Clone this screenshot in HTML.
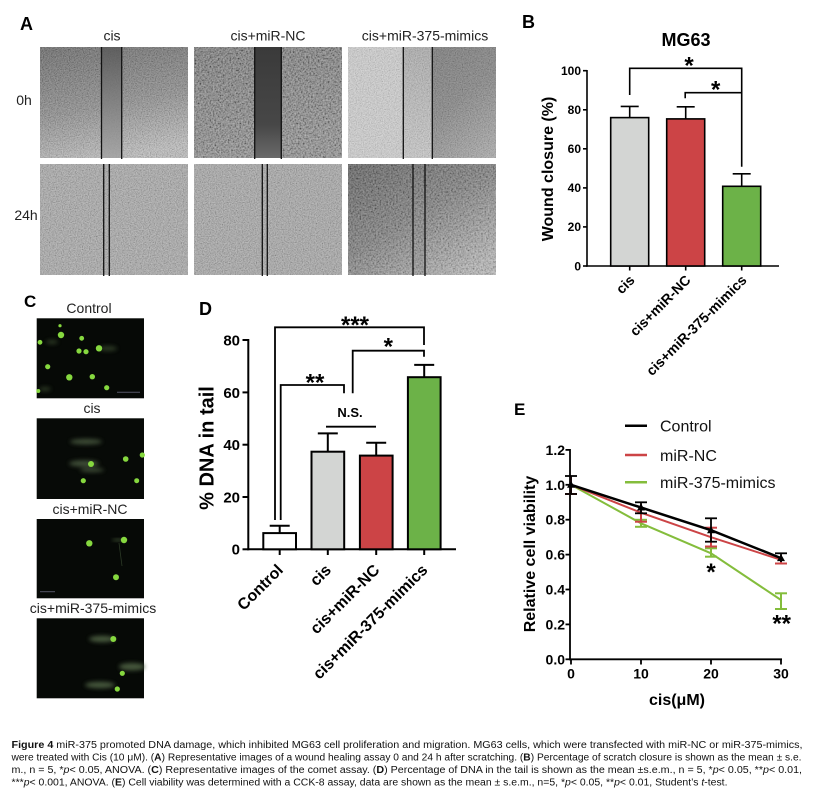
<!DOCTYPE html>
<html><head><meta charset="utf-8">
<style>
html,body{margin:0;padding:0;background:#fff;}
svg{display:block;}
text{font-family:"Liberation Sans",Arial,sans-serif;}
.b{font-weight:bold;}
</style></head>
<body>
<svg width="815" height="800" viewBox="0 0 815 800" xmlns="http://www.w3.org/2000/svg">
<defs>
  <filter id="nz" x="0" y="0" width="1" height="1" filterUnits="objectBoundingBox">
    <feTurbulence type="fractalNoise" baseFrequency="0.85" numOctaves="2" seed="4"/>
    <feColorMatrix type="matrix" values="1.4 0 0 0 -0.2  1.4 0 0 0 -0.2  1.4 0 0 0 -0.2  0 0 0 0 0.35"/>
  </filter>
  <filter id="nz2" x="0" y="0" width="1" height="1" filterUnits="objectBoundingBox">
    <feTurbulence type="fractalNoise" baseFrequency="0.6" numOctaves="2" seed="9"/>
    <feColorMatrix type="matrix" values="1.6 0 0 0 -0.3  1.6 0 0 0 -0.3  1.6 0 0 0 -0.3  0 0 0 0 0.45"/>
  </filter>
  <filter id="blur1"><feGaussianBlur stdDeviation="2.2"/></filter>
  <linearGradient id="g11" x1="0.2" y1="0" x2="0.45" y2="1">
    <stop offset="0" stop-color="#585858"/><stop offset="0.55" stop-color="#808080"/><stop offset="1" stop-color="#b8b8b8"/>
  </linearGradient>
  <linearGradient id="g11gap" x1="0" y1="0" x2="0" y2="1">
    <stop offset="0" stop-color="#585858"/><stop offset="1" stop-color="#a4a4a4"/>
  </linearGradient>
  <linearGradient id="g12" x1="0" y1="0" x2="0.3" y2="1">
    <stop offset="0" stop-color="#5e5e5e"/><stop offset="1" stop-color="#7a7a7a"/>
  </linearGradient>
  <linearGradient id="g12gap" x1="0" y1="0" x2="0" y2="1">
    <stop offset="0" stop-color="#3a3a3a"/><stop offset="0.7" stop-color="#474747"/><stop offset="1" stop-color="#6a6a6a"/>
  </linearGradient>
  <linearGradient id="g13r" x1="0" y1="0" x2="1" y2="1">
    <stop offset="0" stop-color="#666"/><stop offset="0.6" stop-color="#7c7c7c"/><stop offset="1" stop-color="#a8a8a8"/>
  </linearGradient>
  <linearGradient id="g13gap" x1="0" y1="0" x2="0" y2="1">
    <stop offset="0" stop-color="#a8a8a8"/><stop offset="1" stop-color="#c6c6c6"/>
  </linearGradient>
  <linearGradient id="g23" x1="0" y1="0" x2="0.8" y2="1">
    <stop offset="0" stop-color="#4a4a4a"/><stop offset="0.5" stop-color="#6e6e6e"/><stop offset="1" stop-color="#b0b0b0"/>
  </linearGradient>
  <linearGradient id="g23gap" x1="0" y1="0" x2="0" y2="1">
    <stop offset="0" stop-color="#5c5c5c"/><stop offset="1" stop-color="#8c8c8c"/>
  </linearGradient>
</defs>

<!-- ================= PANEL A ================= -->
<text x="20" y="30" class="b" font-size="18">A</text>
<text x="112" y="40.5" font-size="14" text-anchor="middle" fill="#222">cis</text>
<text x="268" y="40.5" font-size="14" text-anchor="middle" fill="#222">cis+miR-NC</text>
<text x="425" y="40.5" font-size="14" text-anchor="middle" fill="#222">cis+miR-375-mimics</text>
<text x="24" y="105" font-size="14" text-anchor="middle" fill="#222">0h</text>
<text x="26" y="220" font-size="14" text-anchor="middle" fill="#222">24h</text>

<!-- row1 col1 -->
<rect x="40" y="47" width="148" height="111" fill="url(#g11)"/>
<rect x="101.5" y="47" width="20.2" height="111" fill="url(#g11gap)"/>
<rect x="40" y="47" width="148" height="111" filter="url(#nz)"/>
<rect x="101.5" y="47" width="20.2" height="111" fill="url(#g11gap)" opacity="0.8"/>
<line x1="101.5" y1="47" x2="101.5" y2="159" stroke="#111" stroke-width="1.3"/>
<line x1="121.7" y1="47" x2="121.7" y2="159" stroke="#111" stroke-width="1.3"/>
<!-- row1 col2 -->
<rect x="194" y="47" width="148" height="111" fill="url(#g12)"/>
<rect x="194" y="47" width="148" height="111" filter="url(#nz2)"/>
<rect x="254.7" y="47" width="26.6" height="111" fill="url(#g12gap)"/>
<line x1="254.7" y1="47" x2="254.7" y2="159" stroke="#111" stroke-width="1.3"/>
<line x1="281.3" y1="47" x2="281.3" y2="159" stroke="#111" stroke-width="1.3"/>
<!-- row1 col3 -->
<rect x="348" y="47" width="148" height="111" fill="url(#g13r)"/>
<rect x="348" y="47" width="55.3" height="111" fill="#cdcdcd"/>
<rect x="403.3" y="47" width="29" height="111" fill="url(#g13gap)"/>
<rect x="348" y="47" width="148" height="111" filter="url(#nz)" opacity="0.8"/>
<line x1="403.3" y1="47" x2="403.3" y2="159" stroke="#111" stroke-width="1.3"/>
<line x1="432.3" y1="47" x2="432.3" y2="159" stroke="#111" stroke-width="1.3"/>
<!-- row2 col1 -->
<rect x="40" y="164" width="148" height="111" fill="#a2a2a2"/>
<rect x="40" y="164" width="148" height="111" filter="url(#nz)"/>
<line x1="103.7" y1="164" x2="103.7" y2="276" stroke="#111" stroke-width="1.3"/>
<line x1="109.3" y1="164" x2="109.3" y2="276" stroke="#111" stroke-width="1.3"/>
<!-- row2 col2 -->
<rect x="194" y="164" width="148" height="111" fill="#a0a0a0"/>
<rect x="194" y="164" width="148" height="111" filter="url(#nz)"/>
<line x1="262.3" y1="164" x2="262.3" y2="276" stroke="#111" stroke-width="1.3"/>
<line x1="267.3" y1="164" x2="267.3" y2="276" stroke="#111" stroke-width="1.3"/>
<!-- row2 col3 -->
<rect x="348" y="164" width="148" height="111" fill="url(#g23)"/>
<rect x="413" y="164" width="12" height="111" fill="url(#g23gap)"/>
<rect x="348" y="164" width="148" height="111" filter="url(#nz2)" opacity="0.8"/>
<line x1="413" y1="164" x2="413" y2="276" stroke="#111" stroke-width="1.3"/>
<line x1="425" y1="164" x2="425" y2="276" stroke="#111" stroke-width="1.3"/>

<!-- ================= PANEL B ================= -->
<text x="522" y="28" class="b" font-size="18">B</text>
<text x="686" y="46" class="b" font-size="18" text-anchor="middle">MG63</text>
<text transform="translate(553,169) rotate(-90)" class="b" font-size="16" text-anchor="middle">Wound closure (%)</text>
<g class="b" font-size="12" text-anchor="end">
  <text x="581" y="270.3">0</text>
  <text x="581" y="231.2">20</text>
  <text x="581" y="192.2">40</text>
  <text x="581" y="153.1">60</text>
  <text x="581" y="114.1">80</text>
  <text x="581" y="75">100</text>
</g>
<g stroke="#000" stroke-width="1.6" fill="none">
  <line x1="587" y1="70" x2="587" y2="266.8"/>
  <line x1="586.2" y1="266" x2="779" y2="266"/>
  <line x1="583" y1="266" x2="587" y2="266"/>
  <line x1="583" y1="226.9" x2="587" y2="226.9"/>
  <line x1="583" y1="187.9" x2="587" y2="187.9"/>
  <line x1="583" y1="148.8" x2="587" y2="148.8"/>
  <line x1="583" y1="109.8" x2="587" y2="109.8"/>
  <line x1="583" y1="70.7" x2="587" y2="70.7"/>
  <line x1="629.7" y1="266" x2="629.7" y2="270.5"/>
  <line x1="685.7" y1="266" x2="685.7" y2="270.5"/>
  <line x1="741.7" y1="266" x2="741.7" y2="270.5"/>
</g>
<g stroke="#000" stroke-width="1.6">
  <rect x="610.7" y="117.6" width="38" height="148.4" fill="#d3d5d3"/>
  <rect x="666.7" y="118.9" width="38" height="147.1" fill="#cc4446"/>
  <rect x="722.7" y="186.3" width="38" height="79.7" fill="#6cb248"/>
  <line x1="629.7" y1="117.6" x2="629.7" y2="106.4"/>
  <line x1="620.7" y1="106.4" x2="638.7" y2="106.4"/>
  <line x1="685.7" y1="118.9" x2="685.7" y2="106.8"/>
  <line x1="676.7" y1="106.8" x2="694.7" y2="106.8"/>
  <line x1="741.7" y1="186.3" x2="741.7" y2="173.8"/>
  <line x1="732.7" y1="173.8" x2="750.7" y2="173.8"/>
</g>
<g stroke="#000" stroke-width="1.6" fill="none">
  <polyline points="629.7,95 629.7,68.3 741.7,68.3 741.7,166.7"/>
  <polyline points="685.2,98.3 685.2,92.7 741.7,92.7"/>
</g>
<g class="b" font-size="24" text-anchor="middle">
  <text x="689" y="73.5">*</text>
  <text x="715.7" y="97.5">*</text>
</g>
<g class="b" font-size="14" text-anchor="end">
  <text transform="translate(635.5,281) rotate(-45)">cis</text>
  <text transform="translate(691.5,281) rotate(-45)">cis+miR-NC</text>
  <text transform="translate(747.5,281) rotate(-45)">cis+miR-375-mimics</text>
</g>

<!-- ================= PANEL C ================= -->
<text x="24" y="307" class="b" font-size="17">C</text>
<g font-size="14" text-anchor="middle" fill="#222">
  <text x="89" y="313">Control</text>
  <text x="92" y="413">cis</text>
  <text x="90" y="514">cis+miR-NC</text>
  <text x="93" y="613">cis+miR-375-mimics</text>
</g>
<!-- comet image 1 -->
<rect x="36.7" y="318.3" width="107.3" height="80" fill="#060906"/>
<g fill="#3e5032" opacity="0.7" filter="url(#blur1)">
  <ellipse cx="108" cy="348.5" rx="9" ry="2.5"/>
  <ellipse cx="52" cy="342" rx="6" ry="2"/>
  <ellipse cx="45" cy="389" rx="6" ry="2"/>
</g>
<g fill="#86d83f">
  <circle cx="61" cy="335" r="3.2"/><circle cx="81.7" cy="338.3" r="2.4"/><circle cx="40" cy="342.3" r="2.4"/>
  <circle cx="79" cy="351" r="2.6"/><circle cx="86" cy="351.7" r="2.6"/><circle cx="99" cy="348.3" r="3.2"/>
  <circle cx="47.7" cy="366.7" r="2.6"/><circle cx="69.3" cy="377.3" r="3.2"/><circle cx="92.3" cy="376.7" r="2.7"/>
  <circle cx="106.7" cy="387.7" r="2.6"/><circle cx="60" cy="325.7" r="1.6"/><circle cx="38.3" cy="391" r="2"/>
</g>
<line x1="117" y1="392.3" x2="140" y2="392.3" stroke="#556" stroke-width="1"/>
<!-- comet image 2 -->
<rect x="36.7" y="418.3" width="107.3" height="80.7" fill="#070a07"/>
<g fill="#4a5a40" opacity="0.85" filter="url(#blur1)">
  <ellipse cx="86" cy="441.7" rx="16" ry="2.8"/>
  <ellipse cx="84" cy="463.5" rx="15" ry="3.2"/>
  <ellipse cx="92" cy="470" rx="12" ry="2"/>
</g>
<g fill="#86d83f">
  <circle cx="91" cy="464" r="3"/><circle cx="125.7" cy="459" r="2.8"/><circle cx="142.3" cy="455" r="2.6"/>
  <circle cx="83.3" cy="480.7" r="2.6"/><circle cx="136.7" cy="480.7" r="2.5"/>
</g>
<!-- comet image 3 -->
<rect x="36.7" y="519" width="107.3" height="79.3" fill="#060906"/>
<g fill="#3e5032" opacity="0.7" filter="url(#blur1)">
  <ellipse cx="118" cy="540" rx="6" ry="2"/>
</g>
<g fill="#86d83f">
  <circle cx="89.3" cy="543.3" r="3.2"/><circle cx="124" cy="540" r="3.2"/><circle cx="116" cy="577.3" r="3"/>
</g>
<line x1="119" y1="543" x2="122" y2="566" stroke="#2c3a26" stroke-width="0.8"/>
<line x1="40" y1="591.7" x2="55" y2="591.7" stroke="#556" stroke-width="1"/>
<!-- comet image 4 -->
<rect x="36.7" y="618.3" width="107.3" height="80" fill="#060906"/>
<g fill="#4d6043" opacity="0.9" filter="url(#blur1)">
  <ellipse cx="102" cy="639" rx="13" ry="3.2"/>
  <ellipse cx="132" cy="666.7" rx="13" ry="3.7"/>
  <ellipse cx="100" cy="685" rx="15" ry="3.2"/>
</g>
<g fill="#86d83f">
  <circle cx="113.3" cy="639" r="3"/><circle cx="122.3" cy="673.3" r="2.6"/><circle cx="117.3" cy="689" r="2.6"/>
</g>

<!-- ================= PANEL D ================= -->
<text x="199" y="315" class="b" font-size="18">D</text>
<text transform="translate(213.5,448) rotate(-90)" class="b" font-size="20" text-anchor="middle">% DNA in tail</text>
<g class="b" font-size="15" text-anchor="end">
  <text x="240" y="554.7">0</text>
  <text x="240" y="502.4">20</text>
  <text x="240" y="450.1">40</text>
  <text x="240" y="397.8">60</text>
  <text x="240" y="345.4">80</text>
</g>
<g stroke="#000" stroke-width="2" fill="none">
  <line x1="248.3" y1="339" x2="248.3" y2="550.3"/>
  <line x1="247.3" y1="549.3" x2="456" y2="549.3"/>
  <line x1="242.5" y1="549.3" x2="248.3" y2="549.3"/>
  <line x1="242.5" y1="497" x2="248.3" y2="497"/>
  <line x1="242.5" y1="444.7" x2="248.3" y2="444.7"/>
  <line x1="242.5" y1="392.4" x2="248.3" y2="392.4"/>
  <line x1="242.5" y1="340" x2="248.3" y2="340"/>
  <line x1="279.7" y1="549.3" x2="279.7" y2="555"/>
  <line x1="327.8" y1="549.3" x2="327.8" y2="555"/>
  <line x1="376.2" y1="549.3" x2="376.2" y2="555"/>
  <line x1="424.2" y1="549.3" x2="424.2" y2="555"/>
</g>
<g stroke="#000" stroke-width="2">
  <rect x="263.3" y="533.1" width="32.7" height="16.2" fill="#fff"/>
  <rect x="311.5" y="451.7" width="32.7" height="97.6" fill="#d3d5d3"/>
  <rect x="359.9" y="455.6" width="32.7" height="93.7" fill="#cc4446"/>
  <rect x="407.9" y="377.2" width="32.7" height="172.1" fill="#6cb248"/>
  <line x1="279.7" y1="533.1" x2="279.7" y2="525.8"/>
  <line x1="269.7" y1="525.8" x2="289.7" y2="525.8"/>
  <line x1="327.8" y1="451.7" x2="327.8" y2="433.4"/>
  <line x1="317.8" y1="433.4" x2="337.8" y2="433.4"/>
  <line x1="376.2" y1="455.6" x2="376.2" y2="442.8"/>
  <line x1="366.2" y1="442.8" x2="386.2" y2="442.8"/>
  <line x1="424.2" y1="377.2" x2="424.2" y2="364.9"/>
  <line x1="414.2" y1="364.9" x2="434.2" y2="364.9"/>
</g>
<g stroke="#000" stroke-width="1.8" fill="none">
  <polyline points="275,520 275,327.3 424,327.3 424,345"/>
  <polyline points="280.7,520 280.7,385 344,385 344,393.3"/>
  <polyline points="352.7,393.3 352.7,350.7 424,350.7 424,356.7"/>
  <line x1="326" y1="426.7" x2="376" y2="426.7"/>
</g>
<text x="350" y="417" class="b" font-size="13" text-anchor="middle">N.S.</text>
<g class="b" font-size="24" text-anchor="middle">
  <text x="355" y="333">***</text>
  <text x="315" y="390.7">**</text>
  <text x="388.3" y="354.7">*</text>
</g>
<g class="b" font-size="16" text-anchor="end">
  <text transform="translate(284,571) rotate(-45)">Control</text>
  <text transform="translate(332.1,571) rotate(-45)">cis</text>
  <text transform="translate(380.5,571) rotate(-45)">cis+miR-NC</text>
  <text transform="translate(428.5,571) rotate(-45)">cis+miR-375-mimics</text>
</g>

<!-- ================= PANEL E ================= -->
<text x="514" y="415" class="b" font-size="17">E</text>
<text transform="translate(535,554) rotate(-90)" class="b" font-size="16" text-anchor="middle">Relative cell viability</text>
<g class="b" font-size="14" text-anchor="end">
  <text x="565" y="664.3">0.0</text>
  <text x="565" y="629.4">0.2</text>
  <text x="565" y="594.5">0.4</text>
  <text x="565" y="559.6">0.6</text>
  <text x="565" y="524.7">0.8</text>
  <text x="565" y="489.8">1.0</text>
  <text x="565" y="454.9">1.2</text>
</g>
<g class="b" font-size="14" text-anchor="middle">
  <text x="571" y="678.5">0</text>
  <text x="641" y="678.5">10</text>
  <text x="711" y="678.5">20</text>
  <text x="781" y="678.5">30</text>
</g>
<text x="677" y="705" class="b" font-size="16" text-anchor="middle">cis(μM)</text>
<g stroke="#000" stroke-width="1.8" fill="none">
  <line x1="570" y1="449" x2="570" y2="660.2"/>
  <line x1="569.1" y1="659.3" x2="782" y2="659.3"/>
  <line x1="565.5" y1="659.3" x2="570" y2="659.3"/>
  <line x1="565.5" y1="624.4" x2="570" y2="624.4"/>
  <line x1="565.5" y1="589.5" x2="570" y2="589.5"/>
  <line x1="565.5" y1="554.6" x2="570" y2="554.6"/>
  <line x1="565.5" y1="519.7" x2="570" y2="519.7"/>
  <line x1="565.5" y1="484.8" x2="570" y2="484.8"/>
  <line x1="565.5" y1="449.9" x2="570" y2="449.9"/>
  <line x1="571" y1="659.3" x2="571" y2="664.5"/>
  <line x1="641" y1="659.3" x2="641" y2="664.5"/>
  <line x1="711" y1="659.3" x2="711" y2="664.5"/>
  <line x1="781" y1="659.3" x2="781" y2="664.5"/>
</g>
<!-- legend -->
<line x1="625" y1="425.7" x2="647" y2="425.7" stroke="#000" stroke-width="2.5"/>
<line x1="625" y1="455" x2="647" y2="455" stroke="#cc4446" stroke-width="2.5"/>
<line x1="625" y1="482.3" x2="647" y2="482.3" stroke="#84bd3c" stroke-width="2.5"/>
<g font-size="16" fill="#111">
  <text x="660" y="431.5">Control</text>
  <text x="660" y="460.8">miR-NC</text>
  <text x="660" y="488">miR-375-mimics</text>
</g>
<!-- mimics -->
<g stroke="#84bd3c" stroke-width="2" fill="none">
  <polyline points="571,484.8 641,523.3 711,553.3 781,600"/>
  <line x1="641" y1="519.8" x2="641" y2="526.8"/><line x1="635" y1="519.8" x2="647" y2="519.8"/><line x1="635" y1="526.8" x2="647" y2="526.8"/>
  <line x1="711" y1="548.3" x2="711" y2="556.7"/><line x1="705" y1="548.3" x2="717" y2="548.3"/><line x1="705" y1="556.7" x2="717" y2="556.7"/>
  <line x1="781" y1="593.3" x2="781" y2="609"/><line x1="775" y1="593.3" x2="787" y2="593.3"/><line x1="775" y1="609" x2="787" y2="609"/>
</g>
<!-- miR-NC -->
<g stroke="#cc4446" stroke-width="2" fill="none">
  <polyline points="571,484.8 641,512.7 711,537.2 781,559.8"/>
  <line x1="571" y1="477" x2="571" y2="494"/><line x1="565" y1="494" x2="577" y2="494"/>
  <line x1="641" y1="504" x2="641" y2="521.7"/><line x1="635" y1="521.7" x2="647" y2="521.7"/>
  <line x1="711" y1="527.7" x2="711" y2="546.5"/><line x1="705" y1="527.7" x2="717" y2="527.7"/><line x1="705" y1="546.5" x2="717" y2="546.5"/>
  <line x1="781" y1="555" x2="781" y2="563.5"/><line x1="775" y1="563.5" x2="787" y2="563.5"/>
</g>
<!-- control -->
<g stroke="#000" stroke-width="2.5" fill="none">
  <polyline points="571,484.8 641,507.5 711,530.2 781,558.1"/>
</g>
<g stroke="#000" stroke-width="1.8" fill="none">
  <line x1="571" y1="476" x2="571" y2="494"/><line x1="565" y1="476" x2="577" y2="476"/><line x1="565" y1="494" x2="577" y2="494"/>
  <line x1="641" y1="502.3" x2="641" y2="513.3"/><line x1="635" y1="502.3" x2="647" y2="502.3"/><line x1="635" y1="513.3" x2="647" y2="513.3"/>
  <line x1="711" y1="518.3" x2="711" y2="541.7"/><line x1="705" y1="518.3" x2="717" y2="518.3"/><line x1="705" y1="541.7" x2="717" y2="541.7"/>
  <line x1="781" y1="553.3" x2="781" y2="562"/><line x1="775" y1="553.3" x2="787" y2="553.3"/>
</g>
<g fill="#000">
  <polygon points="571,480.8 575,487.8 567,487.8"/>
  <polygon points="641,503.5 645,510.5 637,510.5"/>
  <polygon points="711,526.2 715,533.2 707,533.2"/>
  <polygon points="781,554.1 785,561.1 777,561.1"/>
</g>
<g class="b" font-size="24" text-anchor="middle">
  <text x="711" y="580">*</text>
  <text x="781.7" y="631.5">**</text>
</g>

<!-- ================= CAPTION ================= -->
<g font-size="10" fill="#111">
  <text x="11.5" y="748" textLength="791" lengthAdjust="spacingAndGlyphs"><tspan font-weight="bold">Figure 4</tspan> miR-375 promoted DNA damage, which inhibited MG63 cell proliferation and migration. MG63 cells, which were transfected with miR-NC or miR-375-mimics,</text>
  <text x="11.5" y="760.5" textLength="790" lengthAdjust="spacingAndGlyphs">were treated with Cis (10 μM). (<tspan font-weight="bold">A</tspan>) Representative images of a wound healing assay 0 and 24 h after scratching. (<tspan font-weight="bold">B</tspan>) Percentage of scratch closure is shown as the mean ± s.e.</text>
  <text x="11.5" y="773" textLength="790.5" lengthAdjust="spacingAndGlyphs">m., n = 5, *<tspan font-style="italic">p</tspan>&lt; 0.05, ANOVA. (<tspan font-weight="bold">C</tspan>) Representative images of the comet assay. (<tspan font-weight="bold">D</tspan>) Percentage of DNA in the tail is shown as the mean ±s.e.m., n = 5, *<tspan font-style="italic">p</tspan>&lt; 0.05, **<tspan font-style="italic">p</tspan>&lt; 0.01,</text>
  <text x="11.5" y="785.5" textLength="716" lengthAdjust="spacingAndGlyphs">***<tspan font-style="italic">p</tspan>&lt; 0.001, ANOVA. (<tspan font-weight="bold">E</tspan>) Cell viability was determined with a CCK-8 assay, data are shown as the mean ± s.e.m., n=5, *<tspan font-style="italic">p</tspan>&lt; 0.05, **<tspan font-style="italic">p</tspan>&lt; 0.01, Student’s <tspan font-style="italic">t</tspan>-test.</text>
</g>
</svg>
</body></html>
